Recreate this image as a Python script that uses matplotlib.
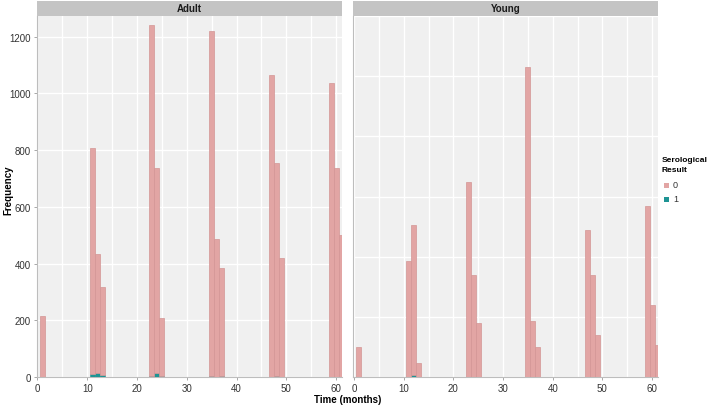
import matplotlib.pyplot as plt
import numpy as np
from matplotlib.patches import Rectangle

plt.rcParams["font.family"] = ["Liberation Sans", "DejaVu Sans"]

# monthly bins (centred on whole months)
months = [1, 11, 12, 13, 23, 24, 25, 35, 36, 37, 47, 48, 49, 59, 60, 61]

adult_neg = [215, 800, 420, 310, 1235, 724, 206, 1215, 488, 379, 1065, 752, 420, 1036, 738, 500]
adult_pos = [0, 9, 14, 6, 5, 14, 2, 5, 0, 4, 0, 3, 0, 0, 0, 0]

young_neg = [100, 387, 499, 48, 648, 339, 181, 1029, 187, 100, 487, 339, 139, 568, 239, 106]
young_pos = [0, 0, 7, 0, 0, 0, 0, 0, 0, 0, 0, 0, 0, 0, 0, 0]

panels = ["Adult", "Young"]
legend_title = "Serological\nResult"
legend_labels = ["0", "1"]

PINK = "#E2A5A4"
PINK_EDGE = "#D39595"
TEAL = "#1E9494"
BG = "#F0F0F0"

W, H = 709, 410
fig = plt.figure(figsize=(W / 100, H / 100), dpi=100)


def px_axes(x0, x1, ytop, ybot):
    return fig.add_axes([x0 / W, (H - ybot) / H, (x1 - x0) / W, (ybot - ytop) / H])


data = [(adult_neg, adult_pos, 1273), (young_neg, young_pos, 1165)]
xpos = [(36.5, 342), (353, 658)]

for i, (name, (neg, pos, ytop), (x0, x1)) in enumerate(zip(panels, data, xpos)):
    ax = px_axes(x0, x1, 17, 378)
    ax.set_facecolor(BG)
    ax.bar(months, pos, width=1.0, color=TEAL, edgecolor=TEAL, linewidth=0.4, zorder=3)
    ax.bar(months, neg, width=1.0, bottom=pos, color=PINK, edgecolor=PINK_EDGE,
           linewidth=0.5, zorder=3)
    ax.set_xlim(-0.2, 61.2)
    ax.set_ylim(0, ytop)
    ax.set_xticks(np.arange(0, 61, 10))
    ax.set_xticks(np.arange(5, 61, 10), minor=True)
    ax.set_yticks(np.arange(0, 1201, 200))
    ax.grid(True, which="both", color="white", linewidth=1.0, zorder=0)
    ax.set_axisbelow(True)
    for s in ["top", "right"]:
        ax.spines[s].set_visible(False)
    for s in ["left", "bottom"]:
        ax.spines[s].set_color("#BDBDBD")
        ax.spines[s].set_linewidth(0.8)
    ax.tick_params(which="both", length=2, width=0.6, color="#9A9A9A",
                   labelsize=7, labelcolor="#333333", pad=2)
    ax.tick_params(which="minor", length=0)
    if i == 1:
        ax.tick_params(axis="y", length=0, labelleft=False)

    strip = px_axes(x0, x1, 2, 17)
    strip.set_facecolor("#C4C4C4")
    strip.set_xticks([])
    strip.set_yticks([])
    for s in strip.spines.values():
        s.set_visible(False)
    strip.text(0.5, 0.5, name, ha="center", va="center", fontsize=7,
               fontweight="bold", color="#1A1A1A", transform=strip.transAxes)

fig.text(8 / W, (H - 190) / H, "Frequency", rotation=90, ha="center", va="center",
         fontsize=7, fontweight="bold")
fig.text(348 / W, (H - 400) / H, "Time (months)", ha="center", va="center",
         fontsize=7, fontweight="bold")

# legend
fig.text(662 / W, (H - 165) / H, legend_title, ha="left", va="center", fontsize=6,
         fontweight="bold", linespacing=1.6)
for j, (lab, col) in enumerate(zip(legend_labels, [PINK, TEAL])):
    yc = 186 + j * 14
    fig.patches.append(Rectangle((664 / W, (H - yc - 2.5) / H), 5 / W, 5 / H,
                                 transform=fig.transFigure, facecolor=col,
                                 edgecolor="none"))
    fig.text(673 / W, (H - yc) / H, lab, ha="left", va="center", fontsize=6.5,
             color="#333333")

fig.savefig("out.png", dpi=100)
